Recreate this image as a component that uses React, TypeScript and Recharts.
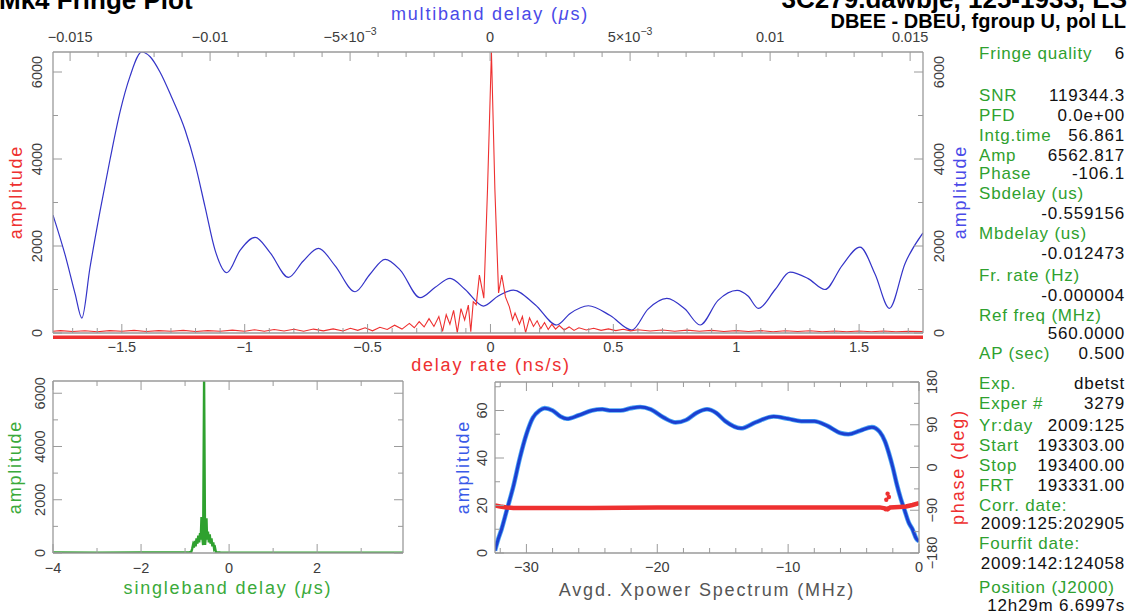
import React from "react";
import { ComposedChart, Line, XAxis, YAxis, ReferenceLine, Scatter } from "recharts";

const FONT = '"Liberation Sans", Arial, Helvetica, sans-serif';
const RED = "#ee3030";
const BLUE = "#3434c8";
const GREEN = "#2fa12f";
const FRAME = "#9a9a9a";
const TICK_TXT = "#3c3c3c";

// delay rate (ns/s) -> amplitude (red)
const rateCurve: [number, number][] = [
  [-1.78, 40], [-1.75, 55], [-1.7, 35], [-1.65, 50], [-1.6, 30], [-1.55, 55], [-1.5, 40], [-1.45, 60],
  [-1.4, 35], [-1.35, 55], [-1.3, 40], [-1.25, 60], [-1.2, 35], [-1.15, 55], [-1.1, 40], [-1.05, 65],
  [-1.0, 40], [-0.96, 75], [-0.92, 40], [-0.88, 80], [-0.84, 45], [-0.8, 85], [-0.76, 40], [-0.72, 90],
  [-0.68, 50], [-0.64, 95], [-0.6, 45], [-0.57, 110], [-0.54, 60], [-0.51, 120], [-0.48, 50], [-0.45, 130],
  [-0.42, 80], [-0.39, 180], [-0.36, 90], [-0.33, 220], [-0.31, 120], [-0.29, 260], [-0.27, 140], [-0.25, 330],
  [-0.23, 150], [-0.21, 380], [-0.195, 40], [-0.18, 420], [-0.165, 200], [-0.15, 520], [-0.135, 10], [-0.12, 560],
  [-0.105, 300], [-0.09, 640], [-0.08, 30], [-0.07, 720], [-0.058, 650], [-0.045, 1330], [-0.027, 800], [-0.012, 3300],
  [0.004, 6460], [0.018, 3300], [0.033, 920], [0.046, 1330], [0.061, 830], [0.077, 600], [0.09, 300], [0.1, 460],
  [0.118, 200], [0.13, 380], [0.143, 10], [0.159, 350], [0.175, 150], [0.19, 280], [0.205, 100], [0.22, 240],
  [0.235, 80], [0.25, 200], [0.265, 90], [0.28, 170], [0.3, 70], [0.32, 140], [0.34, 60], [0.36, 120],
  [0.39, 70], [0.42, 110], [0.45, 60], [0.48, 95], [0.51, 55], [0.54, 85], [0.57, 50], [0.6, 75],
  [0.65, 45], [0.7, 70], [0.75, 40], [0.8, 65], [0.85, 40], [0.9, 60], [0.95, 35], [1.0, 55],
  [1.05, 35], [1.1, 55], [1.15, 30], [1.2, 50], [1.25, 35], [1.3, 50], [1.35, 30], [1.4, 45],
  [1.45, 30], [1.5, 45], [1.55, 30], [1.6, 45], [1.65, 30], [1.7, 40], [1.76, 35],
];

// multiband delay (us) -> amplitude (blue)
const mbdCurve: [number, number][] = [
  [-0.01561, 2710], [-0.01518, 1800], [-0.01482, 900], [-0.01458, 344], [-0.01429, 1500], [-0.01393, 2800],
  [-0.01357, 4000], [-0.01321, 5100], [-0.01286, 5900], [-0.01244, 6460], [-0.01214, 6350], [-0.01179, 6000],
  [-0.01136, 5400], [-0.01089, 4660], [-0.01054, 3900], [-0.01018, 2900], [-0.00982, 1900], [-0.0094, 1385],
  [-0.00893, 1900], [-0.00839, 2197], [-0.00786, 1850], [-0.0072, 1279], [-0.00668, 1650], [-0.00613, 1945],
  [-0.00554, 1550], [-0.00482, 948], [-0.00429, 1350], [-0.00375, 1692], [-0.00321, 1447], [-0.0025, 811],
  [-0.00196, 1050], [-0.00143, 1256], [-0.00089, 1000], [-0.00024, 620], [0.00029, 850], [0.00083, 987],
  [0.00161, 650], [0.00238, 184], [0.00286, 450], [0.00351, 627], [0.00429, 400], [0.00506, 69],
  [0.00564, 550], [0.00631, 797], [0.00696, 550], [0.0075, 184], [0.00814, 750], [0.00882, 980],
  [0.00921, 850], [0.00958, 566], [0.01018, 1000], [0.01071, 1400], [0.01136, 1250], [0.01196, 1000],
  [0.01257, 1550], [0.01321, 1975], [0.01375, 1350], [0.01426, 566], [0.01482, 1600], [0.01546, 2300],
];

// singleband delay (us) -> amplitude (green)
const sbdCurve: [number, number][] = [
  [-4, 20], [-3, 15], [-2, 20], [-1, 25], [-0.9, 30], [-0.86, 40], [-0.84, 150], [-0.82, 300], [-0.8, 200],
  [-0.78, 450], [-0.76, 250], [-0.74, 550], [-0.72, 350], [-0.7, 650], [-0.68, 400], [-0.66, 750],
  [-0.645, 500], [-0.627, 1350], [-0.61, 600], [-0.59, 300], [-0.568, 6470], [-0.546, 300], [-0.53, 600],
  [-0.514, 1300], [-0.5, 500], [-0.48, 800], [-0.46, 400], [-0.44, 700], [-0.42, 350], [-0.4, 550],
  [-0.38, 250], [-0.36, 400], [-0.34, 150], [-0.32, 200], [-0.3, 30], [-0.2, 20], [0, 15], [1, 10],
  [2, 10], [3, 10], [3.95, 10],
];

// cross power spectrum (MHz): amplitude and phase
const xpAmp: [number, number][] = [
  [-32.4, 1], [-32.2, 5], [-31.9, 10], [-31.5, 18], [-31.0, 28], [-30.5, 40], [-30.0, 50], [-29.5, 57],
  [-29.0, 60], [-28.6, 61], [-28.0, 60], [-27.4, 57.5], [-26.9, 56.5], [-26.0, 58], [-25.0, 60], [-24.2, 60.5],
  [-23.5, 60], [-22.8, 60], [-22.0, 61], [-21.3, 61.5], [-20.5, 60.5], [-19.5, 57], [-18.6, 55], [-17.8, 56],
  [-17.0, 59], [-16.2, 60.5], [-15.5, 59], [-14.8, 55.5], [-13.6, 52.5], [-12.5, 55], [-11.1, 57.5], [-10.0, 56.5],
  [-9.0, 55.5], [-8.0, 55.5], [-7.0, 53.5], [-6.0, 50.5], [-5.4, 50], [-4.5, 51.5], [-3.6, 53], [-3.0, 51],
  [-2.6, 47], [-2.3, 42], [-2.0, 36], [-1.7, 29], [-1.4, 23], [-1.1, 18], [-0.8, 13], [-0.5, 10],
  [-0.2, 6], [0, 5],
];
const xpPhase: [number, number][] = [
  [-32.4, -80], [-32.0, -82], [-31.5, -84], [-31, -85], [-25, -85], [-20, -84], [-15, -84], [-10, -84],
  [-5, -84], [-3, -84], [-2.6, -86], [-2.4, -88], [-2.2, -84], [-1.5, -83], [-1, -82], [-0.5, -79], [0, -75],
];
const xpPhaseOut: [number, number][] = [[-2.4, -55], [-2.3, -62], [-2.5, -68], [-2.55, -88], [-2.35, -86]];

// tick marks and labels
const steps = (a: number, b: number, s: number) => {
  const out: number[] = [];
  for (let v = a; v <= b + s * 1e-6; v += s) out.push(Math.round(v * 1e6) / 1e6);
  return out;
};
const rateTicks = steps(-1.7, 1.7, 0.1);
const rateMajors = [-1.5, -1, -0.5, 0, 0.5, 1, 1.5];
const rateLabels = ["\u22121.5", "\u22121", "\u22120.5", "0", "0.5", "1", "1.5"];
const mbdTicks = steps(-0.015, 0.015, 0.001);
const mbdMajors = [-0.015, -0.01, -0.005, 0, 0.005, 0.01, 0.015];
const mbdLabels = ["\u22120.015", "\u22120.01", "\u22125\u00d710^\u22123", "0", "5\u00d710^\u22123", "0.01", "0.015"];
const ampTicks = steps(0, 6000, 1000);
const ampMajors = [0, 2000, 4000, 6000];
const ampLabels = ["0", "2000", "4000", "6000"];
const sbdTicks = steps(-4, 3, 1);
const sbdMajors = [-4, -2, 0, 2];
const sbdLabels = ["\u22124", "\u22122", "0", "2"];
const freqTicks = steps(-32, 0, 2);
const freqMajors = [-30, -20, -10, 0];
const freqLabels = ["\u221230", "\u221220", "\u221210", "0"];
const xpAmpTicks = steps(0, 70, 10);
const xpAmpMajors = [0, 20, 40, 60];
const xpAmpLabels = ["0", "20", "40", "60"];
const phaseTicks = steps(-180, 180, 45);
const phaseMajors = [-180, -90, 0, 90, 180];
const phaseLabels = ["\u2212180", "\u221290", "0", "90", "180"];

const infoTop: [string, string][] = [
  ["Fringe quality", "6"], ["SNR", "119344.3"], ["PFD", "0.0e+00"], ["Intg.time", "56.861"],
  ["Amp", "6562.817"], ["Phase", "-106.1"], ["Sbdelay (us)", ""], ["", "-0.559156"],
  ["Mbdelay (us)", ""], ["", "-0.012473"], ["Fr. rate (Hz)", ""], ["", "-0.000004"],
  ["Ref freq (MHz)", ""], ["", "560.0000"], ["AP (sec)", "0.500"],
];
const infoTopY = [53, 95, 115, 135, 155, 173, 193, 213, 233, 253, 275, 295, 315, 333, 353];
const infoBottom: [string, string][] = [
  ["Exp.", "dbetst"], ["Exper #", "3279"], ["Yr:day", "2009:125"], ["Start", "193303.00"],
  ["Stop", "193400.00"], ["FRT", "193331.00"], ["Corr. date:", ""], ["", "2009:125:202905"],
  ["Fourfit date:", ""], ["", "2009:142:124058"], ["Position (J2000)", ""], ["", "12h29m 6.6997s"],
];
const infoBottomY = [383, 403, 425, 445, 465, 485, 505, 523, 543, 563, 587, 605];

const toPts = (a: [number, number][]) => a.map(([x, y]) => ({ x, y }));

type Side = "top" | "bottom" | "left" | "right";
function axisTick(side: Side, majors: number[], labels: string[] | null, off: number) {
  return (p: any) => {
    const v = Number(p.payload?.value);
    const k = majors.findIndex((m) => Math.abs(m - v) < 1e-7);
    const len = k >= 0 ? 9 : 5;
    const x = p.x;
    const y = p.y;
    let x2 = x;
    let y2 = y;
    if (side === "bottom") y2 = y - len;
    else if (side === "top") y2 = y + len;
    else if (side === "left") x2 = x + len;
    else x2 = x - len;
    let txt: React.ReactNode = null;
    if (k >= 0 && labels) {
      const [base, sup] = labels[k].split("^");
      if (side === "bottom" || side === "top") {
        const ty = side === "bottom" ? y + off : y - off;
        txt = (
          <text x={x} y={ty} textAnchor="middle" fontSize={14.5} fill={TICK_TXT} fontFamily={FONT}>
            {base}
            {sup ? <tspan dy={-7} fontSize={10.5}>{sup}</tspan> : null}
          </text>
        );
      } else {
        const tx = side === "left" ? x - off : x + off;
        txt = (
          <text x={tx} y={y} textAnchor="middle" fontSize={14.5} fill={TICK_TXT} fontFamily={FONT}
            transform={`rotate(-90 ${tx} ${y})`}>
            {base}
          </text>
        );
      }
    }
    return (
      <g>
        <line x1={x} y1={y} x2={x2} y2={y2} stroke={FRAME} strokeWidth={1} />
        {txt}
      </g>
    );
  };
}

const axisBase = {
  tickSize: 0,
  tickMargin: 0,
  tickLine: false,
  interval: 0 as const,
  axisLine: { stroke: FRAME, strokeWidth: 1.3 },
  allowDataOverflow: true,
  type: "number" as const,
};

function FringeTop() {
  return (
    <ComposedChart width={980} height={360} margin={{ top: 0, right: 0, bottom: 0, left: 0 }}>
      <XAxis {...axisBase} xAxisId="rate" dataKey="x" orientation="bottom" height={27} domain={[-1.78, 1.76]}
        ticks={rateTicks} tick={axisTick("bottom", rateMajors, rateLabels, 19)} />
      <XAxis {...axisBase} xAxisId="mbd" dataKey="x" orientation="top" height={52} domain={[-0.01561, 0.01546]}
        ticks={mbdTicks} tick={axisTick("top", mbdMajors, mbdLabels, 10)} />
      <YAxis {...axisBase} yAxisId="l" orientation="left" width={53} domain={[0, 6460]}
        ticks={ampTicks} tick={axisTick("left", ampMajors, ampLabels, 11)} />
      <YAxis {...axisBase} yAxisId="r" orientation="right" width={57} domain={[0, 6460]}
        ticks={ampTicks} tick={axisTick("right", ampMajors, ampLabels, 21)} />
      <ReferenceLine xAxisId="rate" yAxisId="l" y={-100} stroke={RED} strokeWidth={3.5} ifOverflow="visible" />
      <Line xAxisId="mbd" yAxisId="r" data={toPts(mbdCurve)} dataKey="y" type="monotone" stroke={BLUE}
        strokeWidth={1.2} dot={false} isAnimationActive={false} />
      <Line xAxisId="rate" yAxisId="l" data={toPts(rateCurve)} dataKey="y" type="linear" stroke={RED}
        strokeWidth={1.1} dot={false} isAnimationActive={false} />
    </ComposedChart>
  );
}

function SingleBand() {
  return (
    <ComposedChart width={450} height={240} margin={{ top: 0, right: 0, bottom: 0, left: 0 }}>
      <XAxis {...axisBase} xAxisId="b" dataKey="x" orientation="bottom" height={47} domain={[-4, 3.95]}
        ticks={sbdTicks} tick={axisTick("bottom", sbdMajors, sbdLabels, 20)} />
      <XAxis {...axisBase} xAxisId="t" dataKey="x" orientation="top" height={21} domain={[-4, 3.95]}
        ticks={sbdTicks} tick={axisTick("top", sbdMajors, null, 0)} />
      <YAxis {...axisBase} yAxisId="l" orientation="left" width={53} domain={[0, 6460]}
        ticks={ampTicks} tick={axisTick("left", ampMajors, ampLabels, 8)} />
      <YAxis {...axisBase} yAxisId="r" orientation="right" width={47} domain={[0, 6460]}
        ticks={ampTicks} tick={axisTick("right", ampMajors, null, 0)} />
      <Line xAxisId="b" yAxisId="l" data={toPts(sbdCurve)} dataKey="y" type="linear" stroke={GREEN}
        strokeWidth={2.4} dot={false} isAnimationActive={false} />
    </ComposedChart>
  );
}

function XPower() {
  return (
    <ComposedChart width={560} height={240} margin={{ top: 0, right: 0, bottom: 0, left: 0 }}>
      <XAxis {...axisBase} xAxisId="b" dataKey="x" orientation="bottom" height={47} domain={[-32.4, 0]}
        ticks={freqTicks} tick={axisTick("bottom", freqMajors, freqLabels, 19)} />
      <XAxis {...axisBase} xAxisId="t" dataKey="x" orientation="top" height={22} domain={[-32.4, 0]}
        ticks={freqTicks} tick={axisTick("top", freqMajors, null, 0)} />
      <YAxis {...axisBase} yAxisId="amp" dataKey="y" orientation="left" width={75} domain={[0, 72]}
        ticks={xpAmpTicks} tick={axisTick("left", xpAmpMajors, xpAmpLabels, 8)} />
      <YAxis {...axisBase} yAxisId="ph" dataKey="y" orientation="right" width={61} domain={[-180, 180]}
        ticks={phaseTicks} tick={axisTick("right", phaseMajors, phaseLabels, 18)} />
      <Line xAxisId="b" yAxisId="amp" data={toPts(xpAmp)} dataKey="y" type="monotone" stroke="#4aa6f5"
        strokeWidth={4.6} dot={false} isAnimationActive={false} />
      <Line xAxisId="b" yAxisId="amp" data={toPts(xpAmp)} dataKey="y" type="monotone" stroke="#1c3fd0"
        strokeWidth={3} dot={false} isAnimationActive={false} />
      <Line xAxisId="b" yAxisId="ph" data={toPts(xpPhase)} dataKey="y" type="linear" stroke={RED}
        strokeWidth={4.5} dot={false} isAnimationActive={false} />
      <Scatter xAxisId="b" yAxisId="ph" data={toPts(xpPhaseOut)} dataKey="y" fill={RED} isAnimationActive={false}
        shape={(p: any) => <circle cx={p.cx} cy={p.cy} r={2.2} fill={RED} />} />
    </ComposedChart>
  );
}

function VLabel({ x, y, color, children }: { x: number; y: number; color: string; children: React.ReactNode }) {
  return (
    <text x={x} y={y} textAnchor="middle" fill={color} fontSize={18} letterSpacing={1.8}
      transform={`rotate(-90 ${x} ${y})`}>
      {children}
    </text>
  );
}

function Overlay() {
  const info = (rows: [string, string][], ys: number[]) =>
    rows.map(([lab, val], i) => (
      <g key={i}>
        {lab ? <text x={979} y={ys[i] + 6} fill={GREEN}>{lab}</text> : null}
        {val ? <text x={1125} y={ys[i] + 6} textAnchor="end" fill="#111">{val}</text> : null}
      </g>
    ));
  return (
    <svg width={1133} height={611} style={{ position: "absolute", left: 0, top: 0, pointerEvents: "none" }}
      fontFamily={FONT}>
      <text x={-1} y={9} fontSize={26} fontWeight="bold" fill="#000">Mk4 Fringe Plot</text>
      <text x={1127} y={8} fontSize={26} fontWeight="bold" fill="#000" textAnchor="end">3C279.dawbje, 125-1933, ES</text>
      <text x={1126} y={28} fontSize={20} fontWeight="bold" fill="#000" textAnchor="end">DBEE - DBEU, fgroup U, pol LL</text>
      <text x={490} y={20} fontSize={18} letterSpacing={1.8} fill="#4a4ae8" textAnchor="middle">
        multiband delay (<tspan fontStyle="italic">μ</tspan>s)
      </text>
      <text x={491} y={371} fontSize={18} letterSpacing={1.8} fill={RED} textAnchor="middle">delay rate (ns/s)</text>
      <VLabel x={22} y={192} color={RED}>amplitude</VLabel>
      <VLabel x={966} y={192} color="#4a4ae8">amplitude</VLabel>
      <VLabel x={21} y={467} color="#3aaa3a">amplitude</VLabel>
      <text x={228} y={594} fontSize={18} letterSpacing={1.8} fill="#3aaa3a" textAnchor="middle">
        singleband delay (<tspan fontStyle="italic">μ</tspan>s)
      </text>
      <VLabel x={469} y={467} color="#3a5ae8">amplitude</VLabel>
      <VLabel x={964} y={467} color={RED}>phase (deg)</VLabel>
      <text x={707} y={596} fontSize={18} letterSpacing={1.8} fill="#555" textAnchor="middle">
        Avgd. Xpower Spectrum (MHz)
      </text>
      <g fontSize={17} letterSpacing={0.8}>
        {info(infoTop, infoTopY)}
        {info(infoBottom, infoBottomY)}
      </g>
    </svg>
  );
}

export default function App() {
  return (
    <div style={{ position: "absolute", left: 0, top: 0, width: 1133, height: 611, background: "#fff", overflow: "hidden", fontFamily: FONT }}>
      <div style={{ position: "absolute", left: 0, top: 0 }}>
        <FringeTop />
      </div>
      <div style={{ position: "absolute", left: 0, top: 360 }}>
        <SingleBand />
      </div>
      <div style={{ position: "absolute", left: 420, top: 360 }}>
        <XPower />
      </div>
      <Overlay />
    </div>
  );
}
